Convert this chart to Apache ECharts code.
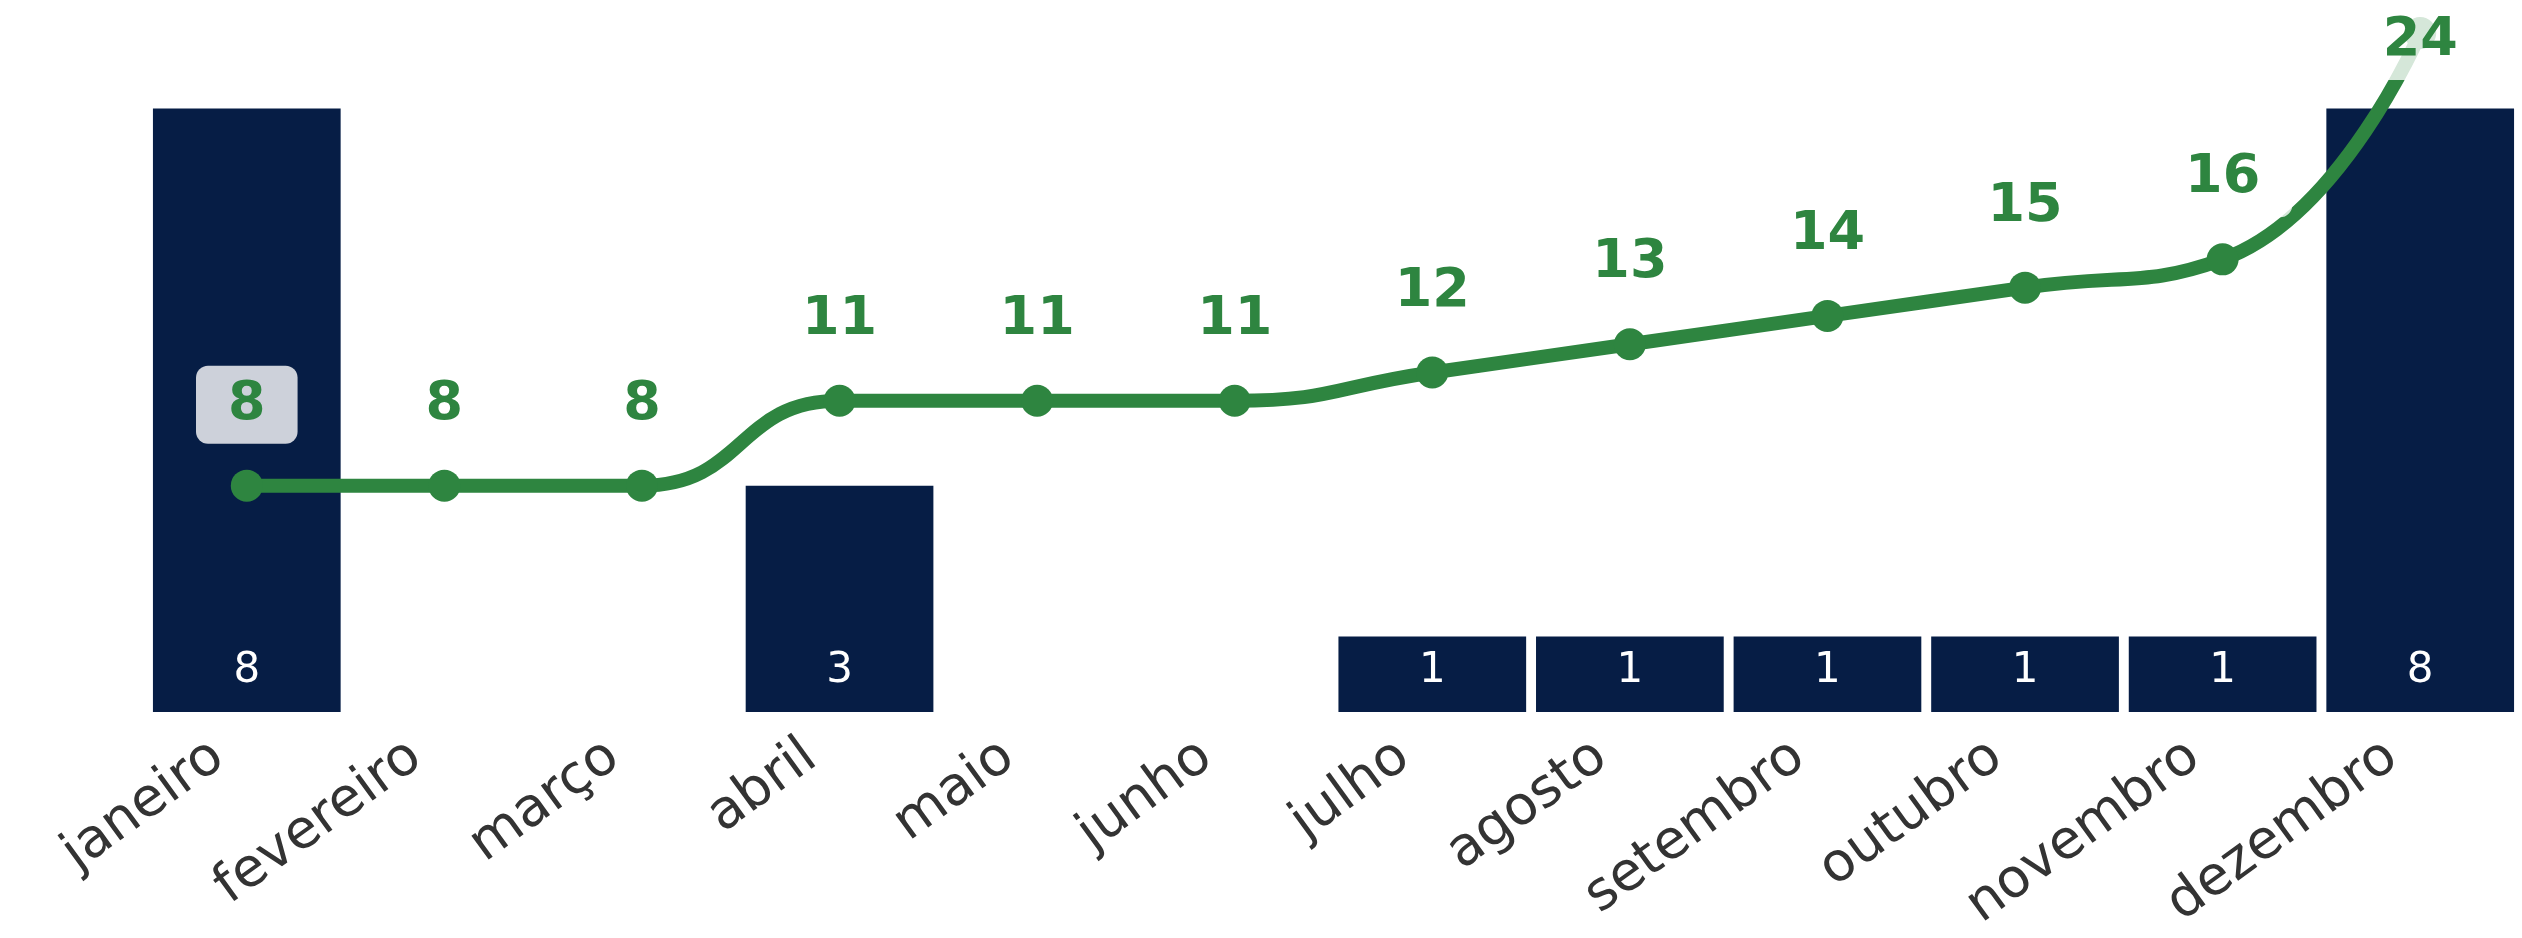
<!DOCTYPE html>
<html>
<head>
<meta charset="utf-8">
<script src="https://cdn.jsdelivr.net/npm/echarts@6/dist/echarts.min.js"></script>
<style>
  html,body{margin:0;padding:0;background:#fff;}
  #chart{width:2522px;height:938px;}
</style>
</head>
<body>
<div id="chart"></div>
<script>
const months=['janeiro','fevereiro','março','abril','maio','junho','julho','agosto','setembro','outubro','novembro','dezembro'];
const monthly=[8,0,0,3,0,0,1,1,1,1,1,8];
const cumulative=[8,8,8,11,11,11,12,13,14,15,16,24];

const barColor='#061d45';
const lineColor='#2e8540';
const font='DejaVu Sans';

const chart=echarts.init(document.getElementById('chart'));

// last label would leave the canvas, so it sits on its point instead
const lastIdx=cumulative.length-1;
const lineData=cumulative.map((v,i)=>{
    if(i===lastIdx){
        return {value:v,label:{position:'inside',offset:[0,8]}};
    }
    return v;
});

const option={
    animation:false,
    grid:{
        left:148,
        right:3,
        top:33,
        bottom:226
    },
    xAxis:{
        type:'category',
        data:months,
        axisLine:{show:false},
        axisTick:{show:false},
        axisLabel:{
            rotate:36,
            margin:19,
            padding:[0,35,0,0],
            fontSize:54,
            fontFamily:font,
            color:'#333'
        }
    },
    yAxis:[
        {type:'value',min:0,max:9,show:false},
        {type:'value',min:0,max:24,show:false}
    ],
    series:[
        {
            type:'bar',
            yAxisIndex:0,
            data:monthly,
            barWidth:'95%',
            itemStyle:{color:barColor},
            label:{
                show:true,
                position:'insideBottom',
                distance:20,
                color:'#fff',
                fontSize:42,
                fontFamily:font,
                formatter:(p)=>p.value?String(p.value):''
            }
        },
        {
            type:'line',
            yAxisIndex:1,
            data:lineData,
            smooth:true,
            symbol:'circle',
            symbolSize:32,
            z:5,
            lineStyle:{color:lineColor,width:14},
            itemStyle:{color:lineColor},
            label:{
                show:true,
                position:'top',
                distance:26,
                color:lineColor,
                fontSize:54,
                lineHeight:54,
                fontWeight:'bold',
                fontFamily:font,
                padding:[12,32],
                borderRadius:12,
                backgroundColor:'rgba(255,255,255,0.8)'
            }
        }
    ]
};

chart.setOption(option);
</script>
</body>
</html>
